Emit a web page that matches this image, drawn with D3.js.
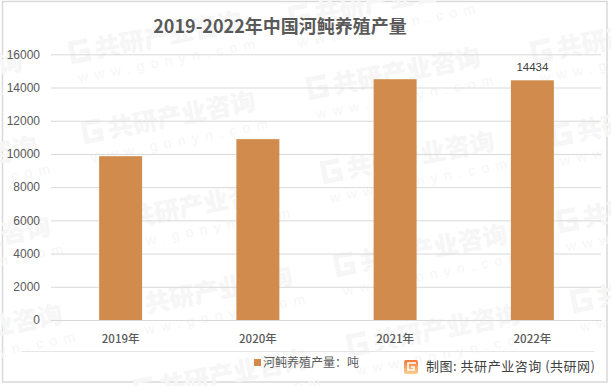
<!DOCTYPE html>
<html>
<head>
<meta charset="utf-8">
<script src="https://cdn.jsdelivr.net/npm/d3@7"></script>
<style>
html,body{margin:0;padding:0;background:#fff;}
svg{display:block;}
text{font-family:"Noto Sans CJK SC","Noto Sans",sans-serif;}
</style>
</head>
<body>
<svg id="chart" width="611" height="386"></svg>
<script>
var years = ['2019年','2020年','2021年','2022年'];
var output = [9865,10890,14500,14434];
var labelled = ['2022年'];
var yTicks = [0,2000,4000,6000,8000,10000,12000,14000,16000];
//--- start of each watermark stamp
var stamps = [[70,57],[83,137],[-150,97],[-135,182],[-122,262],[-110,350],[105,226],[120,312],[308,93],[290,22],[322,177],[335,270],[348,350],[532,57],[552,140],[558,226],[572,306],[135,395]];

var svg = d3.select('#chart');

//--- chart frame
svg.append('rect')
  .attr('x',2.5).attr('y',1.5).attr('width',604.5).attr('height',380.5)
  .attr('fill','#fff').attr('stroke','#d9d9d9').attr('stroke-width',1.5);

//--- watermark goes under the marks
var wmColor = '#f6f6f6';
var wm = svg.selectAll('g.stamp').data(stamps).enter().append('g')
  .attr('class','stamp')
  .attr('transform',function(d){return 'translate('+d[0]+','+d[1]+') rotate(-11)';});
wm.append('path')
  .attr('d','M20 -13H3V5H18V-3H10')
  .attr('fill','none').attr('stroke',wmColor).attr('stroke-width',5);
wm.append('text')
  .attr('x',26).attr('y',6)
  .attr('font-size',25).attr('font-weight',900).attr('fill',wmColor)
  .attr('textLength',150)
  .text('共研产业咨询');
wm.append('text')
  .attr('x',4).attr('y',27)
  .attr('font-size',14).attr('fill',wmColor)
  .attr('letter-spacing',6.5)
  .style('font-family','"Liberation Sans"')
  .text('www.gonyn.com');

var x = d3.scaleBand().domain(years).range([52,601]).paddingInner(0.687).paddingOuter(0.3435);
var y = d3.scaleLinear().domain([0,16000]).range([320,54.3]);

var yAxis = d3.axisLeft(y).tickValues(yTicks).tickFormat(d3.format('d')).tickSize(-550).tickPadding(11);
var yg = svg.append('g').attr('transform','translate(51,0)').call(yAxis);
yg.select('.domain').remove();
yg.selectAll('line').attr('stroke','#d9d9d9').attr('stroke-width',1);
yg.selectAll('text').attr('fill','#595959').attr('font-size',12)
  .style('font-family','"Liberation Sans"');

svg.selectAll('rect.bar').data(output).enter().append('rect')
  .attr('class','bar')
  .attr('x',function(d,i){return x(years[i]);})
  .attr('y',function(d){return y(d);})
  .attr('width',x.bandwidth())
  .attr('height',function(d){return y(0)-y(d);})
  .attr('fill','#d18b4d');

var xAxis = d3.axisBottom(x).tickSize(0).tickPadding(15);
var xg = svg.append('g').attr('transform','translate(0,320)').call(xAxis);
xg.select('.domain').attr('stroke','#d9d9d9');
xg.selectAll('text').attr('fill','#595959').attr('font-size',11.5).attr('font-weight',500);

//--- only the last bar carries a label
svg.selectAll('text.val').data(output).enter()
  .filter(function(d,i){return labelled.indexOf(years[i])>=0;})
  .append('text')
  .attr('class','val')
  .attr('x',x(labelled[0])+x.bandwidth()/2)
  .attr('y',function(d){return y(d)-9;})
  .attr('text-anchor','middle')
  .attr('font-size',11.5)
  .attr('fill','#404040')
  .style('font-family','"Liberation Sans"')
  .text(function(d){return d;});

svg.append('text')
  .attr('x',280).attr('y',32.5)
  .attr('text-anchor','middle')
  .attr('font-size',18).attr('font-weight',700).attr('fill','#595959')
  .text('2019-2022年中国河鲀养殖产量');

//--- footer
svg.append('line').attr('x1',22).attr('x2',594).attr('y1',351.5).attr('y2',351.5).attr('stroke','#e6e6e6');
svg.append('rect').attr('x',254).attr('y',359).attr('width',7).attr('height',7).attr('fill','#d18b4d');
svg.append('text').attr('x',263).attr('y',367)
  .attr('font-size',12).attr('fill','#595959').text('河鲀养殖产量：吨');

var grad = svg.append('defs').append('linearGradient').attr('id','logoGrad')
  .attr('x1',0).attr('y1',0).attr('x2',0).attr('y2',1);
grad.append('stop').attr('offset',0).attr('stop-color','#f0783c');
grad.append('stop').attr('offset',1).attr('stop-color','#fbd08f');
svg.append('rect').attr('x',404).attr('y',360).attr('width',14).attr('height',14).attr('rx',2).attr('fill','url(#logoGrad)');
svg.append('path').attr('d','M416 363H408V370H414V367H411')
  .attr('fill','none').attr('stroke','#fff').attr('stroke-width',1.6);
svg.append('text').attr('x',426).attr('y',371)
  .attr('font-size',13).attr('fill','#404040')
  .attr('textLength',169)
  .text('制图: 共研产业咨询 (共研网)');
</script>
</body>
</html>
